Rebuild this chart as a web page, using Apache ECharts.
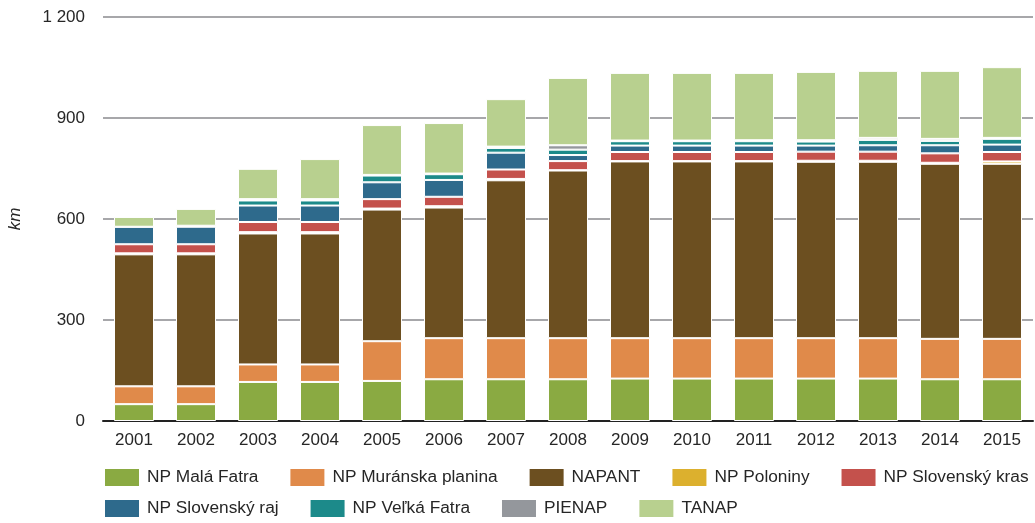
<!DOCTYPE html>
<html>
<head>
<meta charset="utf-8">
<script src="https://cdn.jsdelivr.net/npm/echarts@6/dist/echarts.min.js"></script>
<style>
  html, body { margin: 0; padding: 0; background: #fff; }
  #chart { width: 1035px; height: 523px; }
</style>
</head>
<body>
<div id="chart"></div>
<script>
// years on the x axis
const years = ['2001', '2002', '2003', '2004', '2005', '2006', '2007', '2008',
  '2009', '2010', '2011', '2012', '2013', '2014', '2015']

// km per national park
const malaFatra = [50, 50, 116, 116, 119, 124, 124, 124, 126, 126, 126, 126, 126, 124, 124]
const muranska = [53, 53, 52, 52, 118, 122, 122, 122, 120, 120, 120, 120, 120, 120, 120]
const napant = [392, 392, 389, 389, 391, 388, 469, 498, 525, 525, 525, 524, 524, 520, 520]
const poloniny = [3, 3, 4, 4, 3, 4, 4, 1, 1, 1, 1, 3, 3, 3, 7]
const slovKras = [27, 27, 30, 30, 28, 28, 28, 27, 27, 27, 27, 27, 27, 28, 28]
const slovRaj = [52, 52, 49, 49, 50, 50, 50, 18, 19, 19, 19, 18, 19, 24, 22]
const velkaFatra = [0, 3, 15, 15, 20, 17, 14, 16, 13, 13, 13, 12, 16, 13, 17]
const pienap = [0, 0, 4, 4, 2, 2, 4, 13, 2, 2, 3, 4, 6, 6, 3]
const tanap = [29, 50, 90, 119, 148, 150, 141, 200, 201, 201, 200, 203, 199, 202, 210]

const yTicks = [0, 300, 600, 900, 1200]

const parks = [
  { name: 'NP Malá Fatra', data: malaFatra, color: '#8aaa42' },
  { name: 'NP Muránska planina', data: muranska, color: '#e08a4a' },
  { name: 'NAPANT', data: napant, color: '#6c4f20' },
  { name: 'NP Poloniny', data: poloniny, color: '#dcb02e' },
  { name: 'NP Slovenský kras', data: slovKras, color: '#c4514c' },
  { name: 'NP Slovenský raj', data: slovRaj, color: '#2e6a8c' },
  { name: 'NP Veľká Fatra', data: velkaFatra, color: '#1c8a8a' },
  { name: 'PIENAP', data: pienap, color: '#94979c' },
  { name: 'TANAP', data: tanap, color: '#b8d08f' },
]

const font = "'Liberation Sans', Arial, sans-serif"
const textColor = '#262626'

const legendBase = {
  left: 103,
  width: 980,
  padding: 0,
  itemWidth: 36,
  itemHeight: 19,
  itemGap: 30,
  icon: 'rect',
  selectedMode: false,
  textStyle: { fontFamily: font, fontSize: 17.3, color: textColor, padding: [0, 0, 0, 2] },
}

const chart = echarts.init(document.getElementById('chart'))

chart.setOption({
  animation: false,
  grid: { left: 103, right: 2, top: 17, bottom: 102, outerBoundsMode: 'none' },
  legend: [
    { ...legendBase, top: 467, data: parks.slice(0, 5).map((p) => p.name) },
    { ...legendBase, top: 498, data: parks.slice(5).map((p) => p.name) },
  ],
  xAxis: {
    type: 'category',
    data: years,
    axisLine: { lineStyle: { color: '#222', width: 2 } },
    axisTick: { show: false },
    axisLabel: { interval: 0, margin: 11, fontFamily: font, fontSize: 17, color: textColor },
  },
  yAxis: {
    type: 'value',
    min: yTicks[0],
    max: yTicks[yTicks.length - 1],
    interval: 300,
    name: 'km',
    nameLocation: 'middle',
    nameGap: 79,
    nameTextStyle: { fontFamily: font, fontSize: 17, fontStyle: 'italic', color: textColor },
    axisLine: { show: false },
    axisTick: { show: false },
    splitLine: { lineStyle: { color: '#a7a7aa', width: 2 } },
    axisLabel: {
      margin: 18,
      fontFamily: font,
      fontSize: 17,
      color: textColor,
      formatter: (v) => String(v).replace(/\B(?=(\d{3})+(?!\d))/g, ' '),
    },
  },
  series: parks.map((p) => ({
    type: 'bar',
    name: p.name,
    stack: 'km',
    data: p.data,
    barWidth: 40,
    itemStyle: { color: p.color, borderColor: '#fff', borderWidth: 1 },
    emphasis: { disabled: true },
  })),
})

window.addEventListener('resize', () => chart.resize())
</script>
</body>
</html>
